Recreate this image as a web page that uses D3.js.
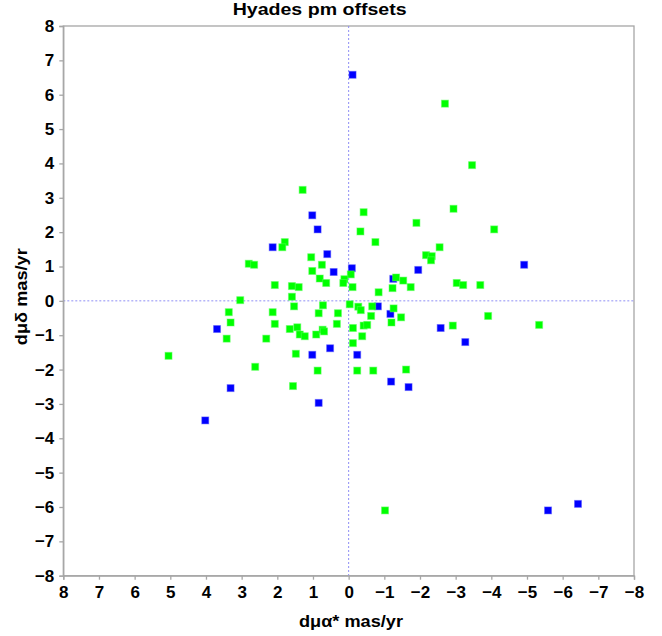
<!DOCTYPE html>
<html>
<head>
<meta charset="utf-8">
<script src="https://cdn.jsdelivr.net/npm/d3@7"></script>
<style>
html,body{margin:0;padding:0;background:#fff;}
svg{display:block;}
text{font-family:"Liberation Sans",Arial,sans-serif;fill:#000;}
</style>
</head>
<body>
<svg id="chart" width="662" height="636"></svg>
<script>
const title = "Hyades pm offsets";
const xLabel = "dμα* mas/yr";
const yLabel = "dμδ mas/yr";
const tickValues = [8,7,6,5,4,3,2,1,0,-1,-2,-3,-4,-5,-6,-7,-8];

const blueX = [-0.11,-5.59,-6.43,1.02,0.87,2.13,0.60,0.42,-0.09,3.69,1.02,0.52,-0.24,3.31,0.84,4.02,-1.95,-4.92,-1.25,-0.82,-1.17,-2.58,-3.27,-1.19,-1.68];
const blueY = [6.58,-6.10,-5.91,2.49,2.08,1.56,1.36,0.84,0.95,-0.82,-1.57,-1.38,-1.57,-2.54,-2.97,-3.48,0.90,1.05,0.64,-0.16,-0.38,-0.79,-1.20,-2.35,-2.51];

const greenX = [-2.70,-3.46,-1.02,1.29,1.79,1.86,1.05,2.80,2.65,0.75,1.02,-0.06,0.81,0.63,0.12,0.15,-0.11,2.07,1.59,1.40,1.59,3.04,1.53,0.72,-0.03,3.36,2.13,0.84,0.30,-0.27,-0.34,3.31,2.07,1.65,1.44,1.37,1.23,0.91,0.73,0.69,0.33,-0.12,-0.38,-0.42,-0.52,-0.63,3.42,2.31,-0.12,5.05,1.48,2.62,0.87,-0.24,1.56,-0.42,-2.94,-1.90,-4.08,-0.33,-0.75,-2.55,-2.17,-2.33,-2.31,-1.33,-1.53,-3.03,-3.21,-3.69,-1.23,-1.74,-0.84,-0.66,-1.26,-1.47,-3.91,-1.20,-2.92,-5.34,-0.69,-1.61];
const greenY = [5.74,3.95,-6.10,3.23,1.71,1.56,1.27,1.08,1.05,1.05,0.87,0.77,0.65,0.52,0.63,0.52,0.40,0.46,0.43,0.40,0.12,0.02,-0.16,-0.13,-0.10,-0.33,-0.33,-0.36,-0.36,-0.17,-0.27,-0.63,-0.67,-0.82,-0.77,-0.98,-1.03,-0.98,-0.84,-0.89,-0.67,-0.79,-1.03,-0.72,-0.70,-0.44,-1.10,-1.10,-1.23,-1.60,-1.54,-1.92,-2.03,-2.03,-2.48,2.58,2.68,2.27,2.08,2.02,1.71,1.56,1.33,1.30,1.18,0.68,0.59,0.52,0.46,0.46,0.37,0.40,0.25,-0.16,-0.22,-0.48,-0.44,-0.63,-0.72,-0.70,-2.03,-2.00];

const svg = d3.select("#chart");
const L = 63.3, R = 634, T = 26, B = 575.7;
const x = d3.scaleLinear().domain([8,-8]).range([L,R]);
const y = d3.scaleLinear().domain([-8,8]).range([B,T]);
const grey = "#a6a6a6";

// frame
svg.append("rect").attr("x",L).attr("y",T).attr("width",R-L).attr("height",B-T)
  .attr("fill","none").attr("stroke",grey).attr("stroke-width",1.3);

// zero lines
svg.append("line").attr("x1",x(0)).attr("x2",x(0)).attr("y1",T).attr("y2",B)
  .attr("stroke","#8f8ff5").attr("stroke-width",1).attr("stroke-dasharray","2,2");
svg.append("line").attr("x1",L).attr("x2",R).attr("y1",y(0)).attr("y2",y(0))
  .attr("stroke","#8f8ff5").attr("stroke-width",1).attr("stroke-dasharray","2,2");

// axes
const xAxis = d3.axisBottom(x).tickValues(tickValues).tickFormat(d3.format("d")).tickSize(4).tickPadding(6);
const yAxis = d3.axisLeft(y).tickValues(tickValues).tickFormat(d3.format("d")).tickSize(4).tickPadding(5);
const gx = svg.append("g").attr("transform",`translate(0,${B})`).call(xAxis);
const gy = svg.append("g").attr("transform",`translate(${L},0)`).call(yAxis);
[gx,gy].forEach(g=>{
  g.select(".domain").attr("stroke",grey).attr("stroke-width",1.3);
  g.selectAll(".tick line").attr("stroke",grey).attr("stroke-width",1.3);
  g.selectAll(".tick text").attr("font-family","Liberation Sans, Arial, sans-serif")
    .attr("font-size",17).attr("font-weight","bold").attr("fill","#000");
});
gx.selectAll(".tick text").text(d=>d===0?"0":d3.format("d")(d));

const size = 7;
function drawPts(xs, ys, fill, stroke){
  svg.append("g").selectAll("rect").data(xs.map((v,i)=>[v,ys[i]])).join("rect")
    .attr("x",d=>x(d[0])-size/2).attr("y",d=>y(d[1])-size/2)
    .attr("width",size).attr("height",size)
    .attr("fill",fill).attr("stroke",stroke).attr("stroke-width",1);
}
drawPts(blueX, blueY, "#0000ff", "rgba(80,80,255,0.45)");
drawPts(greenX, greenY, "#00ff00", "rgba(90,255,90,0.5)");

// title
svg.append("text").attr("x",(L+R)/2-29).attr("y",15).attr("text-anchor","middle")
  .attr("font-size",17).attr("font-weight","bold")
  .attr("textLength",174).attr("lengthAdjust","spacingAndGlyphs").text(title);
// x label
svg.append("text").attr("x",351).attr("y",626.5).attr("text-anchor","middle")
  .attr("font-size",17).attr("font-weight","bold")
  .attr("textLength",104).attr("lengthAdjust","spacingAndGlyphs").text(xLabel);
// y label
svg.append("text").attr("transform","translate(26.5,296.7) rotate(-90)").attr("text-anchor","middle")
  .attr("font-size",17).attr("font-weight","bold")
  .attr("textLength",97).attr("lengthAdjust","spacingAndGlyphs").text(yLabel);
</script>
</body>
</html>
